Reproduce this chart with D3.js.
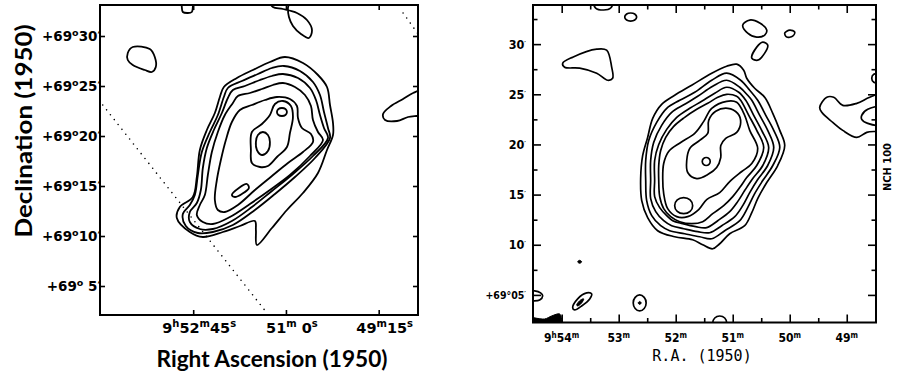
<!DOCTYPE html>
<html>
<head>
<meta charset="utf-8">
<script src="https://cdn.jsdelivr.net/npm/d3@7"></script>
<style>
  html, body { margin: 0; padding: 0; background: #fff; }
  svg { display: block; }
</style>
</head>
<body>
<svg id="chart" width="898" height="374"></svg>
<script>
// map centre: 9h51m00s, +69°20' (1950)
// contour points are [east, north] offsets in arcmin from that centre
const ra0 = 180;   // seconds past 9h48m00s
const dec0 = 20;   // arcmin past +69°00'

// ---------- left map ----------
const leftRaTicks = [285, 180, 75];
const leftRaLabels = [[["9", "h"], ["52", "m"], ["45", "s"]], [["51", "m"], [" 0", "s"]], [["49", "m"], ["15", "s"]]];
const leftDecTicks = [30, 25, 20, 15, 10, 5];
const leftDecLabels = ["30", "25", "20", "15", "10", " 5"];

const leftL1 = [[0.1,7.9],[-1.7,7.3],[-3.2,6.1],[-4.1,4.9],[-4.4,3.1],[-4.7,1.3],[-4.7,0.1],[-4.1,-1.4],[-3.2,-3.7],[-1.7,-5.7],[-0.1,-7.4],[1.4,-9.2],[2.9,-10.9],[3.0,-9.4],[3.1,-8.5],[4.6,-9.0],[6.3,-9.6],[8.3,-10.1],[9.6,-9.6],[10.9,-8.2],[10.6,-7.1],[9.3,-6.1],[8.9,-4.1],[8.6,-1.4],[7.9,0.6],[7.1,2.3],[6.6,3.9],[6.2,4.9],[4.9,5.8],[3.3,6.6],[1.6,7.4]];
const leftL2 = [[0.2,7.0],[-1.4,6.5],[-2.7,5.4],[-3.4,4.1],[-3.8,2.4],[-4.2,0.8],[-4.4,-0.2],[-2.9,-2.2],[-0.9,-4.1],[1.1,-5.8],[3.1,-7.4],[5.3,-8.9],[7.3,-9.6],[8.8,-9.7],[10.0,-9.0],[10.3,-7.8],[9.6,-6.9],[9.1,-5.9],[8.8,-3.9],[8.4,-1.6],[7.6,0.4],[6.8,2.1],[6.2,3.9],[5.8,4.8],[4.4,5.5],[2.8,6.2],[1.4,6.8]];
const leftL3 = [[0.3,6.2],[-1.2,5.8],[-2.4,4.8],[-3.0,3.6],[-3.4,2.1],[-3.8,0.8],[-4.2,-0.2],[-2.7,-2.0],[-0.7,-3.8],[1.4,-5.5],[3.4,-7.1],[5.4,-8.5],[7.3,-9.3],[8.6,-9.3],[9.6,-8.6],[9.6,-7.6],[8.9,-6.7],[8.5,-5.4],[8.3,-3.2],[7.9,-1.2],[7.2,0.6],[6.4,2.3],[5.8,3.8],[5.3,4.6],[4.1,5.0],[2.6,5.6],[1.4,6.0]];
const leftL4 = [[0.3,5.3],[-0.9,4.9],[-1.9,4.1],[-2.5,3.0],[-2.7,1.6],[-3.2,0.4],[-3.7,-0.4],[-2.4,-2.0],[-0.4,-3.9],[1.6,-5.4],[3.6,-6.8],[5.6,-8.1],[7.3,-8.8],[8.3,-8.6],[8.9,-7.9],[8.6,-6.9],[8.1,-5.9],[7.8,-3.9],[7.4,-1.6],[6.8,0.4],[6.1,2.1],[5.3,3.3],[4.8,4.0],[3.6,4.3],[2.4,4.7],[1.3,5.1]];
const leftL5 = [[0.9,3.9],[-0.4,3.7],[-1.1,3.0],[-1.2,1.8],[-1.6,0.8],[-2.5,0.2],[-2.7,-0.6],[-1.7,-1.6],[-0.2,-2.7],[1.4,-4.0],[3.1,-5.4],[4.8,-6.9],[6.1,-7.6],[6.8,-7.4],[7.1,-6.4],[6.9,-4.4],[6.5,-2.4],[6.0,-0.4],[5.4,1.4],[4.6,2.6],[3.4,3.1],[2.1,3.6]];
const leftL6 = [[3.4,0.4],[3.5,-1.4],[3.4,-2.7],[2.6,-3.1],[1.8,-3.0],[0.9,-2.1],[-0.1,-1.1],[-0.4,0.3],[-0.7,1.9],[-0.5,3.0],[0.3,3.5],[1.1,3.2],[1.6,2.1],[2.4,1.2]];
const leftPeakA = [[-0.1,2.4],[0.05,2.1],[0.4,2.0],[0.75,2.1],[0.9,2.4],[0.75,2.7],[0.4,2.8],[0.05,2.7]];
const leftPeakB = [[2.3,0.4],[1.8,0.1],[1.6,-0.6],[1.8,-1.5],[2.4,-1.9],[2.9,-1.4],[3.0,-0.6],[2.8,0.1]];
const leftPeakC = [[5.4,-5.9],[4.7,-5.2],[3.9,-4.8],[3.7,-5.2],[4.4,-5.8],[5.1,-6.1]];
const leftBlobA = [[15.8,8.3],[15.3,8.9],[13.6,8.7],[13.1,7.9],[13.0,6.9],[13.4,6.4],[14.1,6.6],[15.3,7.1],[15.8,7.6]];
const leftBlobB = [[10.4,13.4],[10.4,12.9],[10.3,12.4],[9.8,12.3],[9.4,12.4],[9.3,12.9],[9.3,13.4]];
const leftBlobC = [[1.6,13.4],[1.3,12.9],[0.3,12.7],[-1.1,12.3],[-2.1,11.6],[-2.6,10.6],[-2.3,9.8],[-1.5,10.2],[-0.7,11.0],[-0.3,11.9],[-0.2,12.8],[-0.3,13.4]];
const leftBlobD = [[-13.9,4.6],[-12.7,4.3],[-11.7,3.7],[-10.5,3.0],[-9.7,2.2],[-9.9,1.6],[-11.1,1.5],[-12.2,1.9],[-13.9,2.3]];
const leftDotsA = [[18.3,3.1],[1.9,-17.7]];
const leftDotsB = [[-11.7,12.3],[-13.2,10.2]];

// ---------- right map ----------
const rightRaMinor = [330, 270, 210, 150, 90];
const rightRaMajor = [360, 300, 240, 180, 120, 60];
const rightRaLabels = [[["9", "h"], ["54", "m"]], [["53", "m"]], [["52", "m"]], [["51", "m"]], [["50", "m"]], [["49", "m"]]];
const rightDecMinor = [7.5, 12.5, 17.5, 22.5, 27.5, 32.5];
const rightDecMajor = [30, 25, 20, 15, 10, 5];
const rightDecLabels = ["30", "25", "20", "15", "10", "+69°05"];

const rightR1 = [[-0.37,8.0],[-1.02,7.4],[-1.30,6.6],[-2.04,5.6],[-2.97,4.7],[-3.72,3.1],[-4.37,1.4],[-4.83,-0.1],[-4.18,-2.1],[-3.16,-3.8],[-2.32,-5.4],[-1.77,-6.8],[-1.11,-8.1],[0.28,-8.9],[1.21,-9.9],[1.86,-10.4],[2.79,-10.0],[3.72,-9.5],[5.39,-9.2],[6.97,-8.6],[7.90,-7.3],[8.45,-5.6],[8.55,-3.4],[8.36,-1.1],[7.90,0.7],[7.43,2.6],[6.60,4.0],[5.39,4.9],[3.81,5.9],[1.95,7.1],[0.56,7.8]];
const rightR2 = [[0.56,7.1],[-0.74,6.4],[-1.58,5.4],[-2.32,4.4],[-3.07,2.9],[-3.81,1.4],[-4.37,-0.3],[-3.72,-2.1],[-2.79,-3.6],[-2.04,-4.9],[-1.39,-6.3],[-0.65,-7.6],[0.74,-8.6],[1.95,-9.4],[3.07,-9.2],[4.46,-8.9],[5.85,-8.6],[6.69,-8.1],[7.52,-7.1],[7.99,-5.6],[8.08,-3.6],[8.08,-1.6],[7.80,0.4],[7.06,2.2],[6.13,3.6],[4.92,4.4],[3.53,5.2],[1.95,6.4]];
const rightR3 = [[0.56,6.4],[-0.65,5.7],[-1.39,4.9],[-1.77,4.4],[-2.51,2.9],[-3.25,1.4],[-3.81,-0.3],[-3.25,-2.1],[-2.32,-3.5],[-1.58,-4.8],[-0.93,-6.1],[-0.19,-7.2],[1.02,-8.1],[2.14,-8.8],[3.25,-8.7],[4.55,-8.4],[5.67,-8.1],[6.41,-7.6],[7.15,-6.7],[7.62,-5.4],[7.62,-3.6],[7.62,-1.6],[7.34,0.2],[6.60,1.9],[5.67,3.2],[4.46,4.0],[3.25,4.8],[1.86,5.8]];
const rightR4 = [[0.56,5.7],[-0.56,5.2],[-1.21,4.4],[-1.95,2.9],[-2.69,1.4],[-3.34,-0.3],[-2.79,-2.1],[-1.86,-3.4],[-1.11,-4.6],[-0.46,-5.7],[0.28,-6.7],[1.39,-7.6],[2.42,-8.3],[3.44,-8.2],[4.65,-7.9],[5.57,-7.6],[6.13,-7.1],[6.78,-6.3],[7.25,-5.2],[7.25,-3.6],[7.25,-1.6],[6.87,0.0],[6.13,1.5],[5.20,2.7],[3.99,3.6],[2.88,4.3],[1.67,5.1]];
const rightR5 = [[0.56,5.0],[-0.37,4.8],[-0.74,4.4],[-1.49,2.9],[-2.23,1.4],[-2.88,-0.3],[-2.23,-2.1],[-1.30,-3.3],[-0.65,-4.3],[0.0,-5.2],[0.84,-6.1],[1.86,-6.9],[2.79,-7.7],[3.81,-7.9],[4.92,-7.7],[5.76,-7.2],[6.41,-6.4],[6.78,-5.2],[6.87,-3.6],[6.87,-2.1],[6.69,-0.6],[6.22,0.7],[5.48,1.8],[4.46,2.7],[3.34,3.5],[2.32,4.1],[1.39,4.7]];
const rightR6 = [[0.56,4.3],[-0.37,4.2],[-1.11,2.9],[-1.58,1.4],[-2.32,-0.4],[-1.77,-1.9],[-0.84,-2.7],[0.28,-3.7],[1.21,-4.8],[2.42,-5.5],[3.16,-6.5],[4.18,-7.2],[5.20,-7.2],[6.04,-6.4],[6.41,-4.9],[6.50,-3.4],[6.41,-1.9],[5.95,-0.7],[4.83,0.2],[3.53,1.1],[2.69,2.3],[1.95,3.6]];
const rightR7 = [[4.27,-1.6],[3.99,-0.4],[3.07,0.4],[2.32,1.1],[2.23,2.4],[1.58,3.3],[0.46,3.6],[-0.46,3.1],[-0.74,2.2],[-0.37,1.2],[0.65,0.6],[1.11,-0.1],[1.11,-1.3],[1.49,-2.3],[2.32,-3.0],[3.34,-3.4],[4.18,-2.8]];
const rightPeakA = [[2.09,-1.7],[2.20,-1.98],[2.46,-2.1],[2.72,-1.98],[2.83,-1.7],[2.72,-1.42],[2.46,-1.3],[2.20,-1.42]];
const rightPeakB = [[3.72,-6.1],[3.96,-6.67],[4.55,-6.9],[5.15,-6.67],[5.39,-6.1],[5.15,-5.53],[4.55,-5.3],[3.96,-5.53]];
const rightBlobTri = [[15.79,8.1],[14.86,8.7],[12.63,9.5],[11.71,9.4],[11.24,7.7],[11.15,6.6],[11.61,6.4],[12.63,7.1],[14.21,7.6],[15.61,7.7]];
const rightLoopA = [[-0.93,11.9],[-1.58,12.4],[-2.51,12.1],[-3.16,11.4],[-2.97,10.9],[-2.23,10.7],[-1.39,11.1]];
const rightLoopB = [[-1.77,8.6],[-2.23,9.7],[-2.79,10.2],[-3.25,9.9],[-2.97,9.1],[-2.32,8.4]];
const rightLoopC = [[-4.83,11.1],[-5.30,11.4],[-5.76,11.2],[-5.57,10.8],[-5.02,10.7]];
const rightBlobE = [[-8.08,3.7],[-8.73,4.7],[-9.38,4.7],[-10.22,3.9],[-11.52,4.1],[-12.73,4.7],[-14.12,5.1],[-14.12,1.6],[-12.45,1.2],[-11.52,0.7],[-10.22,1.4],[-9.29,2.2],[-8.27,3.2]];
const rightLoopF = [[-11.98,2.9],[-12.54,3.5],[-13.66,3.7],[-13.66,2.0],[-12.54,2.1],[-11.98,2.5]];
const rightLoopG = [[-12.91,6.6],[-13.10,7.0],[-13.47,7.0],[-13.66,6.6],[-13.47,6.2],[-13.10,6.2]];
const rightTopA = [[8.92,12.7],[9.10,12.4],[9.48,12.3],[9.85,12.4],[10.03,12.7],[9.85,13.0],[9.48,13.1],[9.10,13.0]];
const rightTopB = [[12.91,14.2],[12.73,13.6],[11.98,13.4],[11.33,13.6],[11.15,14.2]];
const rightEllH = [[14.86,-16.3],[14.40,-15.4],[13.56,-14.8],[13.10,-14.9],[13.28,-15.4],[14.03,-16.1],[14.68,-16.5]];
const rightRingI = [[8.04,-15.8],[8.22,-16.35],[8.64,-16.6],[9.06,-16.35],[9.24,-15.8],[9.06,-15.25],[8.64,-15.0],[8.22,-15.25]];
const rightArcJ = [[0.56,-17.8],[0.74,-17.3],[1.21,-17.1],[1.67,-17.3],[1.86,-17.8],[1.67,-18.3],[1.21,-18.5],[0.74,-18.3]];
const rightEdgeK = [[19.32,-14.7],[18.39,-14.6],[17.84,-14.8],[17.65,-15.1],[17.93,-15.5],[18.58,-15.6],[19.32,-15.6]];
// filled specks
const rightDot = [[14.03,-11.7],[14.21,-11.85],[14.40,-11.7],[14.21,-11.55]];
const rightEllHCore = [[14.49,-16.0],[14.12,-15.5],[13.84,-15.4],[14.03,-15.8],[14.40,-16.1]];
const rightRingCore = [[8.5,-15.8],[8.64,-15.95],[8.78,-15.8],[8.64,-15.65]];
const rightCorner = [[19.32,-17.3],[17.47,-17.4],[16.82,-17.1],[16.07,-16.9],[15.89,-17.4],[15.89,-18.6],[19.32,-18.6]];

const leftContours = [leftL1, leftL2, leftL3, leftL4, leftL5, leftL6, leftPeakA, leftPeakB, leftPeakC, leftBlobA, leftBlobB, leftBlobC, leftBlobD];
const rightContours = [rightR1, rightR2, rightR3, rightR4, rightR5, rightR6, rightR7, rightPeakA, rightPeakB,
  rightBlobTri, rightLoopA, rightLoopB, rightLoopC, rightBlobE, rightLoopF, rightLoopG, rightTopA, rightTopB,
  rightEllH, rightRingI, rightArcJ, rightEdgeK];
const rightFilled = [rightDot, rightEllHCore, rightRingCore, rightCorner];

const svg = d3.select("#chart");
const defs = svg.append("defs");

const secPerArcmin = 60 / (15 * Math.cos((69 + dec0 / 60) * Math.PI / 180));
const toSky = ([e, n]) => [ra0 + e * secPerArcmin, dec0 + n];

const panel = (cfg) => {
  const x = d3.scaleLinear().domain(cfg.raDomain).range([cfg.left, cfg.right]);
  const y = d3.scaleLinear().domain(cfg.decDomain).range([cfg.bottom, cfg.top]);

  defs.append("clipPath").attr("id", cfg.id)
    .append("rect")
    .attr("x", cfg.left).attr("y", cfg.top)
    .attr("width", cfg.right - cfg.left).attr("height", cfg.bottom - cfg.top);

  const px = p => x(toSky(p)[0]);
  const py = p => y(toSky(p)[1]);
  const closed = d3.line().x(px).y(py).curve(d3.curveCatmullRomClosed.alpha(0.5));
  const open = d3.line().x(px).y(py);

  const g = svg.append("g").attr("clip-path", `url(#${cfg.id})`);
  g.selectAll("path.contour")
    .data(cfg.contours)
    .join("path")
    .attr("class", "contour")
    .attr("d", closed)
    .attr("fill", "none")
    .attr("stroke", "#000")
    .attr("stroke-width", cfg.lineWidth)
    .attr("stroke-linejoin", "round");

  g.selectAll("path.speck")
    .data(cfg.filled || [])
    .join("path")
    .attr("class", "speck")
    .attr("d", closed)
    .attr("fill", "#000")
    .attr("stroke", "#000")
    .attr("stroke-width", 1);

  g.selectAll("path.dots")
    .data(cfg.dotted || [])
    .join("path")
    .attr("class", "dots")
    .attr("d", open)
    .attr("fill", "none")
    .attr("stroke", "#000")
    .attr("stroke-width", 1.6)
    .attr("stroke-linecap", "round")
    .attr("stroke-dasharray", "0 6.2");

  return { x, y };
};

const inwardTicks = (scaleX, scaleY, cfg, xVals, yVals, len) => {
  const style = sel => {
    sel.select(".domain").remove();
    sel.selectAll(".tick line").attr("stroke", "#000").attr("stroke-width", 1.6);
    sel.selectAll(".tick text").remove();
  };
  svg.append("g").attr("transform", `translate(0,${cfg.bottom})`)
    .call(d3.axisBottom(scaleX).tickValues(xVals).tickSize(-len)).call(style);
  svg.append("g").attr("transform", `translate(0,${cfg.top})`)
    .call(d3.axisTop(scaleX).tickValues(xVals).tickSize(-len)).call(style);
  svg.append("g").attr("transform", `translate(${cfg.left},0)`)
    .call(d3.axisLeft(scaleY).tickValues(yVals).tickSize(-len)).call(style);
  svg.append("g").attr("transform", `translate(${cfg.right},0)`)
    .call(d3.axisRight(scaleY).tickValues(yVals).tickSize(-len)).call(style);
};

// number with superscript units: [["9","h"],["52","m"]]
const supLabel = (sel, parts, supSize, rise) => {
  let up = false;
  parts.forEach(([num, unit]) => {
    sel.append("tspan").attr("dy", up ? rise : 0).text(num);
    sel.append("tspan").attr("font-size", supSize).attr("dy", -rise).text(unit);
    up = true;
  });
};

// ---------- left panel ----------
const leftCfg = {
  id: "clip-left", left: 100, right: 418, top: 5, bottom: 315,
  raDomain: [390.5, 30.5], decDomain: [2.1, 33.1],
  contours: leftContours, dotted: [leftDotsA, leftDotsB], lineWidth: 1.8
};
const L = panel(leftCfg);
inwardTicks(L.x, L.y, leftCfg, leftRaTicks, leftDecTicks, 5);
svg.append("rect")
  .attr("x", leftCfg.left).attr("y", leftCfg.top)
  .attr("width", leftCfg.right - leftCfg.left).attr("height", leftCfg.bottom - leftCfg.top)
  .attr("fill", "none").attr("stroke", "#000").attr("stroke-width", 2);

const leftFont = "'DejaVu Sans', sans-serif";
leftDecTicks.forEach((d, i) => {
  const t = svg.append("text")
    .attr("x", 101).attr("y", L.y(d) + 5)
    .attr("text-anchor", "end")
    .attr("font-family", leftFont).attr("font-weight", "bold").attr("font-size", 13.5);
  t.append("tspan").text("+69");
  t.append("tspan").attr("font-size", 9.5).attr("dy", -5).text("o");
  t.append("tspan").attr("dy", 5).text(leftDecLabels[i]);
  t.append("tspan").text("′");
});
leftRaTicks.forEach((r, i) => {
  const t = svg.append("text")
    .attr("x", L.x(r) + 6).attr("y", 333)
    .attr("text-anchor", "middle")
    .attr("font-family", leftFont).attr("font-weight", "bold").attr("font-size", 14.5);
  supLabel(t, leftRaLabels[i], 10, 6);
});
svg.append("text")
  .attr("x", 272).attr("y", 367)
  .attr("text-anchor", "middle")
  .attr("font-family", "Lato, sans-serif").attr("font-weight", "bold").attr("font-size", 22)
  .attr("textLength", 231).attr("lengthAdjust", "spacingAndGlyphs")
  .text("Right Ascension (1950)");
svg.append("text")
  .attr("transform", "translate(32,131) rotate(-90)")
  .attr("text-anchor", "middle")
  .attr("font-family", "Lato, sans-serif").attr("font-weight", "bold").attr("font-size", 22)
  .attr("textLength", 213).attr("lengthAdjust", "spacingAndGlyphs")
  .text("Declination (1950)");

// ---------- right panel ----------
const rightCfg = {
  id: "clip-right", left: 533, right: 876, top: 5, bottom: 322.5,
  raDomain: [390.2, 29.2], decDomain: [2.25, 33.9],
  contours: rightContours, filled: rightFilled, lineWidth: 1.7
};
const R = panel(rightCfg);
inwardTicks(R.x, R.y, rightCfg, rightRaMinor, rightDecMinor, 4.5);
inwardTicks(R.x, R.y, rightCfg, rightRaMajor, rightDecMajor, 8);
svg.append("rect")
  .attr("x", rightCfg.left).attr("y", rightCfg.top)
  .attr("width", rightCfg.right - rightCfg.left).attr("height", rightCfg.bottom - rightCfg.top)
  .attr("fill", "none").attr("stroke", "#000").attr("stroke-width", 2);

const rightFont = "'DejaVu Sans Condensed', 'Liberation Sans Narrow', 'DejaVu Sans', sans-serif";
rightDecMajor.forEach((d, i) => {
  const t = svg.append("text")
    .attr("x", 526).attr("y", R.y(d) + 4.5)
    .attr("text-anchor", "end")
    .attr("font-family", rightFont).attr("font-weight", "bold")
    .attr("font-size", i === rightDecMajor.length - 1 ? 10.5 : 12.5);
  t.append("tspan").text(rightDecLabels[i]);
  t.append("tspan").attr("font-size", 7).attr("dy", -3).text("′");
});
rightRaMajor.forEach((r, i) => {
  const t = svg.append("text")
    .attr("x", R.x(r)).attr("y", 342)
    .attr("text-anchor", "middle")
    .attr("font-family", rightFont).attr("font-weight", "bold").attr("font-size", 12);
  supLabel(t, rightRaLabels[i], 8, 4);
});
svg.append("text")
  .attr("x", 702).attr("y", 361)
  .attr("text-anchor", "middle")
  .attr("font-family", "'DejaVu Sans Mono', 'Liberation Mono', monospace").attr("font-size", 15)
  .text("R.A. (1950)");
svg.append("text")
  .attr("transform", "translate(891,167) rotate(-90)")
  .attr("text-anchor", "middle")
  .attr("font-family", rightFont).attr("font-weight", "bold").attr("font-size", 11)
  .text("NCH 100");
</script>
</body>
</html>
